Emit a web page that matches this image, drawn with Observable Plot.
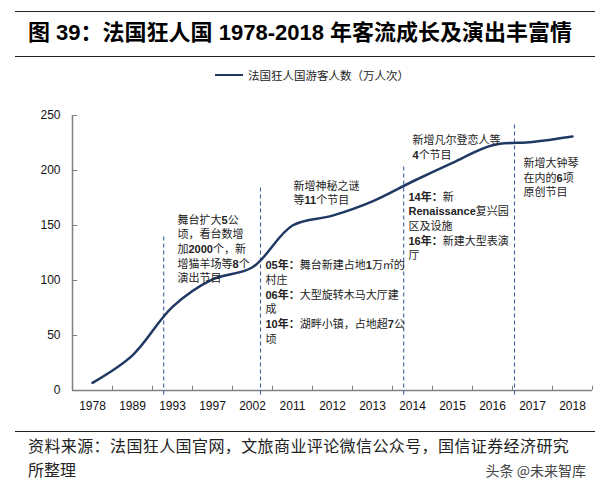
<!DOCTYPE html>
<html><head><meta charset="utf-8">
<script src="https://cdn.jsdelivr.net/npm/d3@7"></script>
<script src="https://cdn.jsdelivr.net/npm/@observablehq/plot@0.6"></script>
<style>
body{margin:0;background:#fff;}
#wrap{position:relative;width:608px;height:484px;overflow:hidden;font-family:"Liberation Sans","Noto Sans CJK SC",sans-serif;color:#000;}
.rule{position:absolute;left:15px;width:580px;height:0;border-top:1.5px solid #222;}
#title{position:absolute;left:28px;top:20px;font-size:22px;line-height:26px;font-weight:bold;white-space:nowrap;font-family:"Liberation Sans","Noto Sans CJK SC",sans-serif;}
#legend{position:absolute;left:215px;top:68px;font-size:11.5px;line-height:14px;white-space:nowrap;display:flex;align-items:center;font-family:"Noto Sans CJK SC",sans-serif;color:#222;}
#legend .sw{display:inline-block;width:28px;height:0;border-top:2.5px solid #1f3864;margin-right:5px;}
#chart{position:absolute;left:0;top:90px;}
.fl{position:absolute;left:28px;font-size:16px;line-height:23px;font-family:"Noto Sans CJK SC",sans-serif;color:#222;white-space:nowrap;}
#wm{position:absolute;right:22px;top:461px;font-size:14px;line-height:18px;font-family:"Noto Sans CJK SC",sans-serif;color:#444;}
</style></head>
<body>
<div id="wrap">
  <div class="rule" style="top:11px"></div>
  <div id="title">图 39：法国狂人国 1978-2018 年客流成长及演出丰富情</div>
  <div class="rule" style="top:56px"></div>
  <div id="legend"><span class="sw"></span><span>法国狂人国游客人数（万人次）</span></div>
  <div id="chart"></div>
  <div class="rule" style="top:431px;border-top-width:1px"></div>
  <div class="fl" style="top:434px;letter-spacing:0.4px">资料来源：法国狂人国官网，文旅商业评论微信公众号，国信证券经济研究</div>
  <div class="fl" style="top:458px">所整理</div>
  <div id="wm">头条 @未来智库</div>
</div>
<script>
const years = ["1978","1989","1993","1997","2002","2011","2012","2013","2014","2015","2016","2017","2018"];
const visitors = [7, 32, 76, 101, 112, 150, 159, 172, 190, 207, 223, 226, 231];
const yTicks = [0, 50, 100, 150, 200, 250];

// dashed event markers (position between categories, top value)
const eventPos = [1.78, 4.2, 7.78, 10.55];
const eventTop = [140, 185, 206, 243];

// annotations (anchor in category index / value units)
const noteText = [
  "舞台扩大5公\n顷，看台数增\n加2000个，新\n增猫羊场等8个\n演出节目",
  "新增神秘之谜\n等11个节目",
  "05年：舞台新建占地1万㎡的\n村庄\n06年：大型旋转木马大厅建\n成\n10年：湖畔小镇，占地超7公\n顷",
  "14年：新\nRenaissance复兴园\n区及设施\n16年：新建大型表演\n厅",
  "新增凡尔登恋人等\n4个节目",
  "新增大钟琴\n在内的6项\n原创节目"
];
const noteX = [2.125, 5.025, 4.325, 7.9, 8.0, 10.775];
const noteY = [161, 192, 119.5, 182, 233.5, 212.5];

const series = years.map((y, i) => ({i, year: y, v: visitors[i]}));
const events = eventPos.map((p, k) => ({p, top: eventTop[k]}));
const notes = noteText.map((t, k) => ({t, x: noteX[k], y: noteY[k]}));
const idx = years.map((_, i) => i);
const bounds = years.map((_, i) => i + 0.5);

const axisColor = "#808080";
const chart = Plot.plot({
  width: 608, height: 330,
  marginLeft: 72, marginRight: 16, marginTop: 25, marginBottom: 30,
  style: {fontFamily: "'Liberation Sans','Noto Sans CJK SC',sans-serif", fontSize: "12px", color: "#111", background: "#fff"},
  x: {domain: [-0.5, 12.5], axis: null},
  y: {domain: [0, 250], axis: null},
  marks: [
    Plot.axisX(idx, {tickFormat: i => years[i], tickSize: 0, tickPadding: 11, fontSize: 12}),
    Plot.axisY(yTicks, {tickSize: 0, tickPadding: 12, fontSize: 12}),
    Plot.ruleY([0], {x1: -0.5, x2: 12.5, stroke: axisColor, strokeWidth: 1.5}),
    Plot.ruleX([-0.5], {y1: 0, y2: 250, stroke: axisColor, strokeWidth: 1.5}),
    Plot.ruleY(yTicks, {x1: -0.5, x2: -0.5 + 0.13, stroke: axisColor}),
    Plot.ruleX(bounds, {y1: 0, y2: 4, stroke: axisColor}),
    Plot.ruleX(events, {x: "p", y1: -4, y2: "top", stroke: "#3f5f9f", strokeDasharray: "4,3", strokeWidth: 1.1}),
    Plot.line(series, {x: "i", y: "v", stroke: "#1f3864", strokeWidth: 2.5, curve: "catmull-rom"}),
    Plot.text(notes, {x: "x", y: "y", text: "t", textAnchor: "start", lineAnchor: "top", lineHeight: 1.33, fontSize: 11, fill: "#222", fontFamily: "'Liberation Sans','Noto Sans CJK SC',sans-serif"})
  ]
});
document.getElementById("chart").appendChild(chart);

// bold latin/digit runs in annotations
const re = /(\d+年：|[0-9A-Za-z]+)/g;
d3.select(chart).selectAll('g[aria-label="text"] tspan, g[aria-label="text"] text').each(function() {
  const el = this;
  if (el.querySelector && el.querySelector("tspan")) return;
  const s = el.textContent;
  if (!re.test(s)) return;
  re.lastIndex = 0;
  const parts = s.split(re).filter(p => p !== "");
  el.textContent = "";
  parts.forEach(p => {
    const t = document.createElementNS("http://www.w3.org/2000/svg", "tspan");
    t.textContent = p;
    if (/^(\d+年：|[0-9A-Za-z]+)$/.test(p)) t.setAttribute("font-weight", "bold");
    el.appendChild(t);
  });
});
</script>
</body></html>
